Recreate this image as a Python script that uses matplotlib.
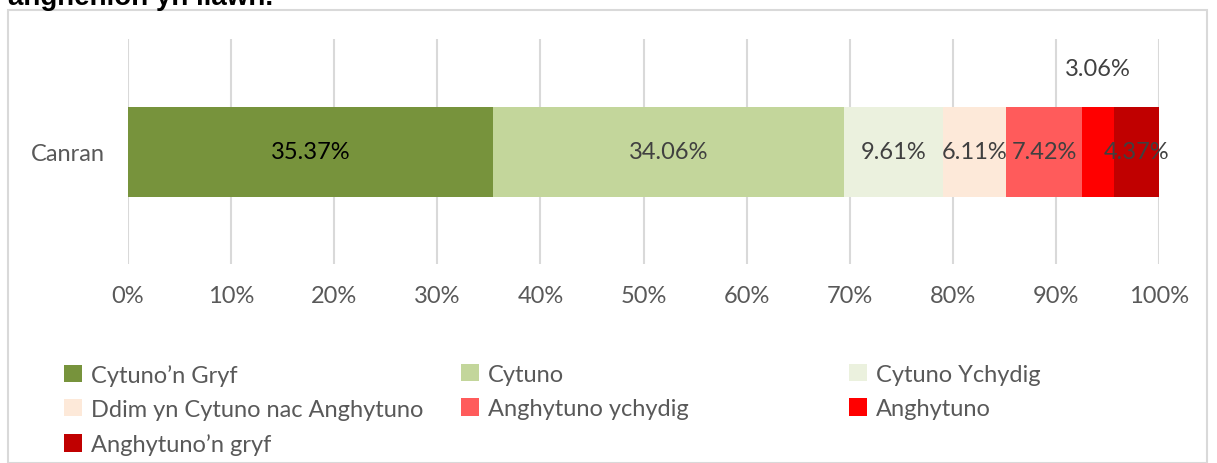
import matplotlib.pyplot as plt
from matplotlib.patches import Rectangle

# data
category = "Canran"
series = ["Cytuno’n Gryf", "Cytuno", "Cytuno Ychydig",
          "Ddim yn Cytuno nac Anghytuno", "Anghytuno ychydig",
          "Anghytuno", "Anghytuno’n gryf"]
values = [35.37, 34.06, 9.61, 6.11, 7.42, 3.06, 4.37]
colors = ["#77933C", "#C3D69B", "#EBF1DE", "#FDE9D9",
          "#FF5B5B", "#FF0000", "#C00000"]
label_colors = ["#000000", "#404040", "#404040", "#404040",
                "#404040", "#404040", "#404040"]
xticks = list(range(0, 101, 10))

plt.rcParams['font.family'] = ['Lato', 'DejaVu Sans']

W, H = 1217, 464
fig = plt.figure(figsize=(W / 100, H / 100), dpi=100)

# chart border
fig.patches.append(Rectangle((8 / W, 0), 1199 / W, 1 - 11 / H,
                             transform=fig.transFigure, fill=False,
                             edgecolor="#D9D9D9", linewidth=1.5))

# title (cut at top of the image)
fig.text(8 / W, 1 - 5 / H, "anghenion yn llawn.", fontsize=20,
         fontweight="bold", family="Liberation Sans", color="#000000",
         ha="left", va="baseline")

ax = fig.add_axes([128 / W, 1 - 265 / H, 1031 / W, 225 / H])

left = 0
bars = []
for name, v, c, lc in zip(series, values, colors, label_colors):
    b = ax.barh(0, v, left=left, height=0.4, color=c, label=name, zorder=3)
    bars.append(b)
    mid = left + v / 2
    if name == "Anghytuno":
        ax.text(mid, 0.37, f"{v:.2f}%", ha="center", va="center",
                fontsize=17, color=lc, zorder=4)
    else:
        ax.text(mid, 0, f"{v:.2f}%", ha="center", va="center",
                fontsize=17, color=lc, zorder=4)
    left += v

ax.set_xlim(0, 100)
ax.set_ylim(-0.5, 0.5)
ax.set_xticks(xticks)
ax.set_xticklabels([f"{t}%" for t in xticks])
ax.set_yticks([0])
ax.set_yticklabels([category])
ax.tick_params(axis="both", length=0, labelsize=17, colors="#595959")
ax.tick_params(axis="x", pad=15)
ax.tick_params(axis="y", pad=17)
ax.grid(axis="x", color="#D9D9D9", linewidth=1.5, zorder=0)
for s in ax.spines.values():
    s.set_visible(False)

# legend, three columns placed like the original
cols = [[0, 3, 6], [1, 4], [2, 5]]
col_x = [64, 461, 849]
for idx, cx in zip(cols, col_x):
    leg = fig.legend([bars[i] for i in idx], [series[i] for i in idx],
                     loc="upper left", bbox_to_anchor=(cx / W, 1 - 365 / H),
                     frameon=False, fontsize=17, handlelength=0.75,
                     handleheight=0.75, handletextpad=0.4, labelspacing=0.56,
                     borderaxespad=0, borderpad=0)
    for t in leg.get_texts():
        t.set_color("#595959")

fig.savefig("out.png", dpi=100)
